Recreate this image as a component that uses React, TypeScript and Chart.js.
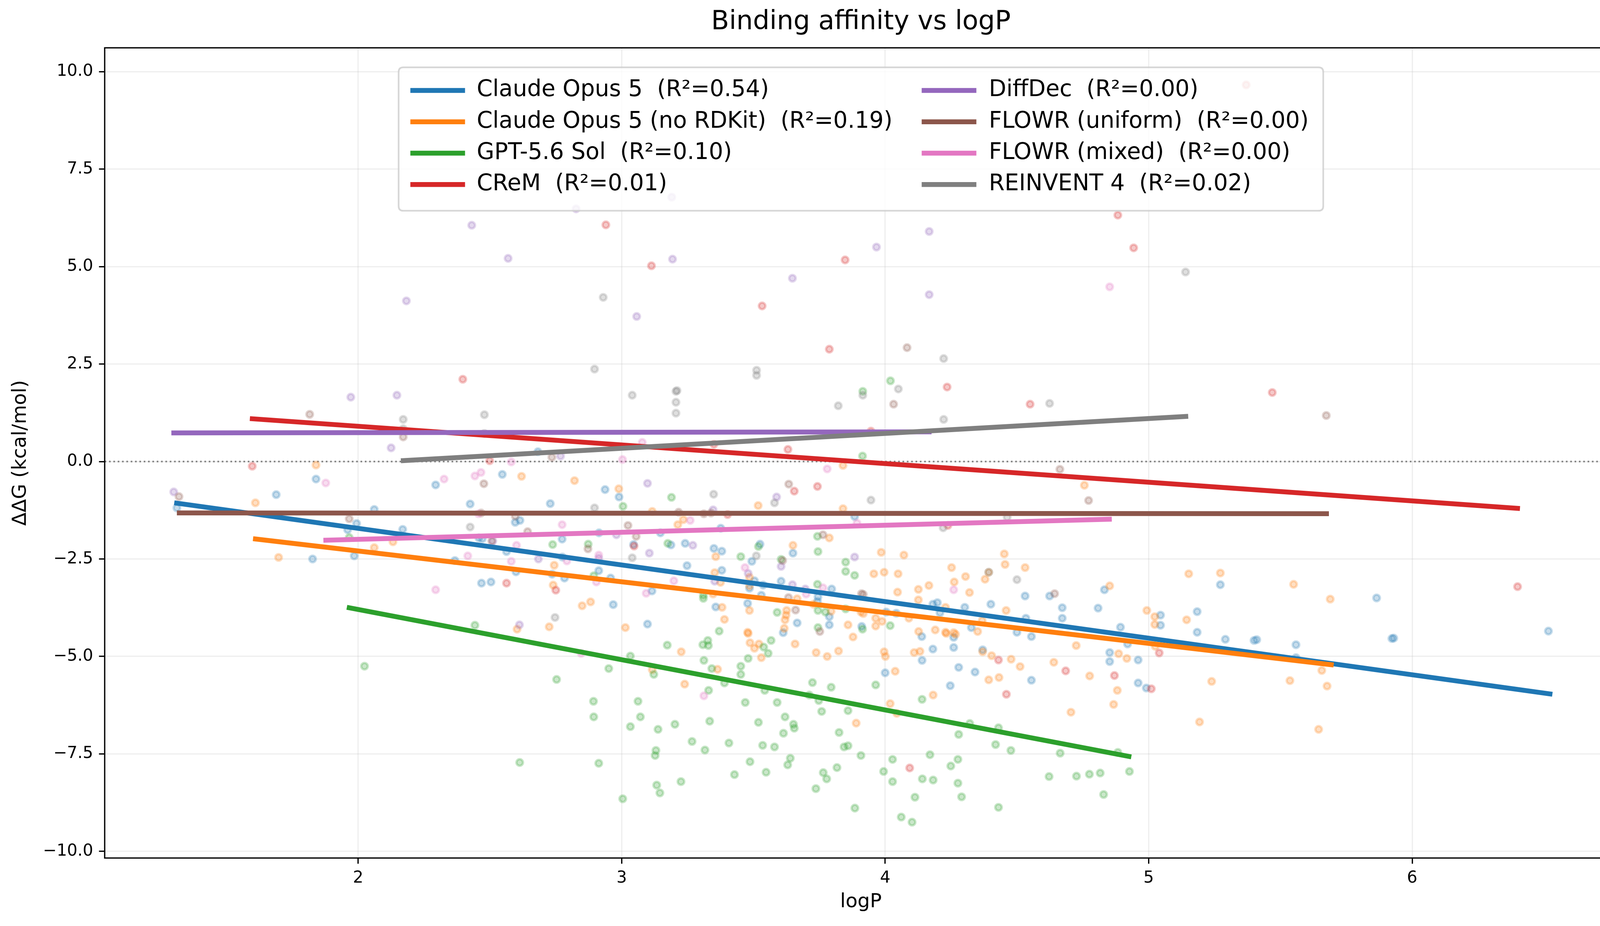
import React, { useEffect, useRef } from "react";
import { Chart, registerables } from "chart.js";

Chart.register(...registerables);

// ---------------- data ----------------
const seriesNames = [
  "Claude Opus 5",
  "Claude Opus 5 (no RDKit)",
  "GPT-5.6 Sol",
  "CReM",
  "DiffDec",
  "FLOWR (uniform)",
  "FLOWR (mixed)",
  "REINVENT 4",
];
const r2Values = [0.54, 0.19, 0.1, 0.01, 0.0, 0.0, 0.0, 0.02];

const claudeOpus5Points = [
  [1.312, -1.19], [1.689, -0.85], [1.84, -0.45], [2.061, -1.23], [1.994, -1.59], [1.96, -1.75], [2.169, -1.74],
  [2.294, -0.6], [2.425, -1.09], [2.458, -1.96], [1.985, -2.42], [1.827, -2.5], [2.367, -2.54], [2.468, -3.12],
  [2.682, 0.25], [2.547, -0.33], [2.937, -0.72], [2.99, -0.91], [2.729, -1.08], [2.596, -1.56], [2.614, -1.51],
  [2.774, -1.99], [2.471, -1.98], [2.563, -2.31], [2.914, -1.83], [3.147, -1.83], [3.376, -1.71], [3.045, -2.13],
  [3.187, -2.14], [3.241, -2.1], [3.35, -2.23], [3.38, -2.3], [3.525, -2.12], [3.494, -2.56], [3.65, -2.35],
  [3.884, -1.41], [2.775, -2.45], [2.913, -2.8], [2.599, -2.83], [2.736, -2.89], [2.783, -2.99], [2.958, -2.99],
  [2.504, -3.09], [3.248, -2.67], [3.38, -2.79], [3.504, -3.06], [3.605, -3.07], [3.537, -3.17], [3.485, -3.25],
  [3.797, -3.27], [3.745, -3.47], [3.53, -3.43], [3.115, -3.32], [2.968, -3.67], [3.478, -3.64], [3.357, -3.73],
  [3.743, -3.59], [3.788, -3.98], [3.666, -4.14], [3.788, -4.19], [3.613, -4.39], [3.098, -4.17], [3.911, -4.23],
  [4.393, -2.84], [4.531, -3.45], [4.624, -3.45], [4.832, -3.29], [5.272, -3.16], [4.181, -3.66], [4.198, -3.62],
  [4.302, -3.74], [4.401, -3.66], [4.672, -3.75], [4.672, -4.02], [4.808, -3.76], [5.184, -3.85], [5.045, -3.94],
  [5.045, -4.2], [4.893, -4.25], [4.004, -3.86], [4.042, -3.89], [4.208, -3.88], [4.534, -4.02], [4.327, -4.26],
  [4.5, -4.38], [5.184, -4.38], [4.139, -4.49], [4.26, -4.51], [4.555, -4.49], [4.181, -4.81], [4.26, -4.77],
  [4.37, -4.83], [4.14, -5.1], [4.279, -5.28], [4.341, -5.4], [4.0, -5.42], [4.247, -5.75], [4.555, -5.61],
  [4.852, -4.9], [4.852, -5.13], [4.96, -5.09], [4.96, -5.68], [4.991, -5.81], [4.92, -4.68], [5.291, -4.56],
  [5.4, -4.59], [5.865, -3.5], [6.517, -4.35], [5.41, -4.57], [5.559, -4.7], [5.559, -5.03], [5.923, -4.54],
  [5.93, -4.53],
];

const claudeNoRdkitPoints = [
  [1.84, -0.09], [1.61, -1.06], [1.698, -2.46], [2.061, -2.21], [2.132, -2.06], [2.62, -0.38], [2.821, -0.49],
  [2.989, -0.7], [3.116, -1.28], [3.234, -1.49], [3.213, -1.62], [3.518, -1.13], [3.84, -1.21], [3.84, -0.1],
  [2.744, -2.66], [2.74, -3.17], [3.357, -2.44], [3.353, -2.85], [3.375, -3.1], [3.65, -2.15], [3.788, -1.96],
  [3.485, -2.97], [3.485, -3.19], [2.85, -3.7], [2.882, -3.6], [2.725, -4.24], [2.603, -4.3], [3.014, -4.26],
  [3.347, -3.4], [3.381, -3.74], [3.39, -4.05], [3.485, -3.82], [3.666, -3.52], [3.626, -3.82], [3.624, -3.94],
  [3.62, -4.06], [3.728, -3.66], [3.795, -3.84], [3.908, -3.86], [3.859, -4.19], [3.617, -4.28], [3.478, -4.38],
  [3.226, -4.88], [3.239, -5.71], [3.116, -5.34], [3.364, -5.33], [3.48, -4.41], [3.487, -4.65], [3.521, -4.68],
  [3.504, -4.79], [3.53, -5.03], [3.658, -4.68], [3.738, -4.9], [3.78, -5.0], [3.823, -4.86], [3.878, -4.5],
  [3.89, -6.71], [4.756, -0.61], [3.985, -2.33], [4.071, -2.4], [4.452, -2.37], [4.455, -2.64], [4.531, -2.72],
  [4.252, -2.72], [3.957, -2.88], [3.996, -2.84], [4.049, -2.88], [4.305, -2.95], [4.262, -3.09], [4.379, -3.02],
  [4.393, -2.84], [4.166, -3.18], [4.126, -3.28], [4.047, -3.35], [4.32, -3.36], [4.126, -3.55], [4.852, -3.19],
  [5.152, -2.88], [5.272, -2.86], [4.459, -3.82], [4.993, -3.82], [5.023, -3.98], [5.023, -4.18], [5.144, -4.06],
  [4.229, -3.74], [4.368, -4.08], [3.964, -4.02], [3.964, -4.22], [3.988, -4.1], [4.09, -4.02], [4.19, -4.32],
  [4.127, -4.36], [4.229, -4.38], [4.26, -4.39], [3.917, -3.9], [4.232, -4.41], [4.267, -4.43], [4.351, -4.36],
  [3.996, -4.88], [4.001, -5.0], [4.11, -4.9], [4.132, -4.87], [4.038, -5.38], [4.37, -4.88], [4.404, -4.98],
  [4.478, -5.07], [4.512, -5.26], [4.393, -5.6], [4.432, -5.54], [4.182, -5.99], [4.019, -6.21], [4.044, -6.46],
  [4.64, -5.15], [4.725, -4.72], [4.776, -5.5], [4.881, -5.87], [4.867, -6.23], [4.705, -6.43], [4.886, -4.93],
  [4.917, -5.05], [5.239, -5.64], [5.193, -6.68], [5.025, -4.74], [5.55, -3.15], [5.689, -3.53], [5.657, -5.36],
  [5.536, -5.62], [5.677, -5.76], [5.645, -6.87],
];

const gptSolPoints = [
  [1.966, -1.95], [2.443, -4.2], [2.024, -5.25], [3.914, 0.14], [3.189, -0.92], [3.005, -1.15], [2.738, -2.13],
  [2.873, -2.12], [3.175, -2.1], [3.452, -2.44], [3.519, -2.18], [3.605, -2.51], [3.743, -1.92], [3.745, -2.31],
  [3.85, -2.58], [3.85, -2.82], [3.884, -2.92], [2.894, -2.93], [3.743, -3.15], [3.745, -3.82], [3.773, -3.86],
  [3.85, -3.78], [3.59, -3.87], [3.31, -3.43], [3.31, -3.51], [3.37, -4.35], [3.745, -4.26], [3.914, -4.3],
  [3.173, -4.71], [3.308, -4.7], [3.327, -4.59], [3.329, -4.72], [3.567, -4.59], [3.539, -4.76], [3.556, -4.92],
  [3.48, -5.05], [3.452, -5.25], [3.452, -5.46], [3.312, -5.1], [3.342, -5.31], [3.39, -5.68], [3.33, -5.87],
  [3.122, -5.46], [3.033, -4.99], [2.951, -5.31], [2.753, -5.59], [2.893, -6.15], [2.894, -6.55], [3.062, -6.15],
  [3.071, -6.55], [3.033, -6.8], [3.138, -6.87], [3.202, -6.74], [3.334, -6.66], [3.267, -7.18], [3.316, -7.4],
  [3.407, -7.22], [3.13, -7.41], [3.127, -7.54], [2.613, -7.72], [2.913, -7.74], [3.133, -8.3], [3.145, -8.5],
  [3.225, -8.21], [3.004, -8.65], [3.469, -6.18], [3.59, -6.18], [3.543, -5.87], [3.519, -6.69], [3.62, -6.55],
  [3.652, -6.74], [3.655, -6.84], [3.614, -6.97], [3.535, -7.28], [3.58, -7.32], [3.487, -7.7], [3.428, -8.03],
  [3.548, -7.97], [3.64, -7.61], [3.63, -7.78], [3.724, -5.67], [3.795, -5.79], [3.712, -5.99], [3.748, -6.13],
  [3.759, -6.41], [3.859, -6.39], [3.825, -6.95], [3.844, -7.32], [3.859, -7.29], [3.908, -7.54], [3.817, -7.85],
  [3.765, -7.98], [3.778, -8.14], [3.737, -8.39], [3.885, -8.89], [3.964, -5.73], [4.14, -6.1], [4.028, -7.64],
  [4.17, -7.52], [3.994, -7.95], [4.028, -8.21], [4.141, -8.14], [4.182, -8.17], [4.113, -8.61], [4.061, -9.12],
  [4.102, -9.25], [4.279, -7.0], [4.321, -6.72], [4.43, -6.83], [4.419, -7.26], [4.477, -7.41], [4.276, -7.64],
  [4.249, -7.81], [4.276, -8.25], [4.29, -8.6], [4.43, -8.87], [4.664, -7.48], [4.622, -8.08], [4.726, -8.07],
  [4.775, -8.02], [4.816, -7.99], [4.927, -7.95], [4.829, -8.54], [4.883, -7.46], [4.019, -4.21], [3.915, 1.8],
  [4.02, 2.07],
];

const cremPoints = [
  [1.598, -0.12], [2.397, 2.11], [2.499, 0.02], [2.94, 6.07], [3.113, 5.02], [3.533, 3.99], [3.848, 5.17],
  [3.788, 2.88], [4.235, 1.91], [4.55, 1.47], [3.631, 0.31], [3.946, 0.78], [3.35, 0.44], [4.883, 6.32],
  [4.943, 5.48], [5.469, 1.77], [3.743, -0.64], [3.655, -0.76], [3.402, -1.36], [3.047, -2.17], [2.563, -3.12],
  [2.75, -3.3], [4.238, -1.64], [6.4, -3.21], [4.43, -5.09], [4.685, -5.37], [4.87, -5.49], [4.46, -5.97],
  [5.01, -5.83], [5.04, -4.91], [4.093, -7.86], [5.37, 9.66],
];

const diffDecPoints = [
  [2.431, 6.06], [2.569, 5.21], [2.183, 4.12], [1.972, 1.65], [2.147, 1.7], [2.125, 0.35], [2.827, 6.48],
  [3.19, 6.78], [3.193, 5.19], [3.057, 3.72], [3.648, 4.7], [3.967, 5.5], [4.167, 5.9], [4.167, 4.28],
  [1.3, -0.78], [2.768, 0.14], [3.098, -0.56], [3.588, -0.91], [3.347, -1.24], [2.98, -1.88], [2.511, -2.04],
  [3.105, -2.35], [3.27, -2.15], [2.684, -2.5], [2.913, -2.48], [3.605, -2.69], [3.48, -2.87], [3.353, -3.07],
  [3.648, -3.16], [3.697, -3.27], [3.884, -2.45], [2.612, -4.19],
];

const flowrUniformPoints = [
  [1.816, 1.21], [2.171, 0.63], [4.083, 2.92], [4.032, 1.47], [2.735, 0.11], [4.663, -0.2], [5.674, 1.18],
  [1.32, -0.9], [1.966, -1.47], [2.477, -0.57], [2.467, -1.32], [2.596, -1.4], [2.643, -1.8], [2.507, -2.04],
  [2.872, -2.24], [3.024, -1.64], [3.055, -1.92], [3.216, -1.3], [3.312, -1.34], [3.339, -1.32], [3.634, -0.58],
  [3.764, -1.88], [3.611, -2.54], [3.633, -3.49], [3.66, -3.81], [3.752, -4.36], [3.91, -3.39], [4.772, -1.0],
  [3.917, -3.41], [4.643, -3.39],
];

const flowrMixedPoints = [
  [2.581, -0.01], [3.078, 0.49], [3.003, 0.05], [3.78, -0.19], [4.852, 4.48], [2.326, -0.45], [2.443, -0.37],
  [2.466, -0.28], [2.456, -1.34], [2.416, -2.42], [2.294, -3.29], [2.774, -1.62], [2.601, -2.15], [2.581, -2.56],
  [2.913, -2.4], [2.792, -2.55], [3.26, -1.51], [2.904, -3.09], [3.198, -3.06], [3.093, -3.38], [3.468, -2.72],
  [3.893, -1.58], [3.7, -3.4], [3.764, -3.24], [4.26, -3.29], [2.846, -4.92], [3.312, -6.01], [1.877, -0.55],
];

const reinventPoints = [
  [2.171, 1.08], [2.171, 0.84], [2.479, 1.2], [2.479, 0.72], [2.93, 4.21], [2.897, 2.37], [3.04, 1.7],
  [3.206, 1.8], [3.21, 1.82], [3.206, 1.52], [3.206, 1.24], [3.512, 2.34], [3.512, 2.21], [3.822, 1.43],
  [3.915, 1.7], [4.05, 1.86], [4.222, 2.64], [4.222, 1.08], [4.624, 1.49], [5.14, 4.86], [2.425, -1.68],
  [3.349, -0.84], [3.58, -1.06], [2.897, -1.19], [3.946, -0.99], [3.04, -2.47], [3.511, -2.42], [2.747, -4.0],
  [4.463, -1.43], [4.22, -1.7], [4.5, -3.03],
];

// regression line end points [x, y]
const fitClaudeOpus5 = [[1.302, -1.06], [6.532, -5.97]];
const fitClaudeNoRdkit = [[1.601, -1.98], [5.702, -5.22]];
const fitGptSol = [[1.957, -3.74], [4.934, -7.575]];
const fitCrem = [[1.589, 1.1], [6.409, -1.207]];
const fitDiffDec = [[1.291, 0.733], [4.176, 0.76]];
const fitFlowrUniform = [[1.312, -1.32], [5.684, -1.34]];
const fitFlowrMixed = [[1.868, -2.02], [4.86, -1.48]];
const fitReinvent = [[2.162, 0.02], [5.15, 1.16]];

const xTickValues = [2, 3, 4, 5, 6];
const yTickValues = [-10, -7.5, -5, -2.5, 0, 2.5, 5, 7.5, 10];
const xRange = [1.038, 6.778];
const yRange = [-10.17, 10.61];

const chartTitle = "Binding affinity vs logP";
const xAxisTitle = "logP";
const yAxisTitle = "ΔΔG (kcal/mol)";

// ---------------- styles ----------------
const seriesColors = ["#1f77b4", "#ff7f0e", "#2ca02c", "#d62728", "#9467bd", "#8c564b", "#e377c2", "#7f7f7f"];
const FONT = '"DejaVu Sans", "Liberation Sans", sans-serif';

const allPoints = [
  claudeOpus5Points, claudeNoRdkitPoints, gptSolPoints, cremPoints,
  diffDecPoints, flowrUniformPoints, flowrMixedPoints, reinventPoints,
];
const allFits = [
  fitClaudeOpus5, fitClaudeNoRdkit, fitGptSol, fitCrem,
  fitDiffDec, fitFlowrUniform, fitFlowrMixed, fitReinvent,
];

function rgba(hex: string, a: number) {
  const n = parseInt(hex.slice(1), 16);
  return `rgba(${(n >> 16) & 255},${(n >> 8) & 255},${n & 255},${a})`;
}

function fmtY(v: number) {
  const s = Math.abs(v).toFixed(1);
  return v < 0 ? "\u2212" + s : s;
}

const zeroLinePlugin = {
  id: "zeroLine",
  beforeDatasetsDraw(chart: any) {
    const { ctx, chartArea } = chart;
    const y = chart.scales.y.getPixelForValue(0);
    ctx.save();
    ctx.strokeStyle = "#808080";
    ctx.lineWidth = 4;
    ctx.setLineDash([4.2, 6.9]);
    ctx.beginPath();
    ctx.moveTo(chartArea.left, y);
    ctx.lineTo(chartArea.right, y);
    ctx.stroke();
    ctx.restore();
  },
};

const framePlugin = {
  id: "frame",
  afterDatasetsDraw(chart: any) {
    const { ctx, chartArea } = chart;
    ctx.save();
    ctx.strokeStyle = "#000";
    ctx.lineWidth = 3.3;
    ctx.strokeRect(chartArea.left, chartArea.top, chartArea.right - chartArea.left, chartArea.bottom - chartArea.top);
    ctx.restore();
  },
};

const boxLegendPlugin = {
  id: "boxLegend",
  afterDraw(chart: any) {
    const { ctx, chartArea } = chart;
    const fits = chart.data.datasets.filter((d: any) => d.isFit);
    fits.sort((a: any, b: any) => a.seriesIndex - b.seriesIndex);
    const boxW = 2367;
    const boxH = 367;
    const left = (chartArea.left + chartArea.right) / 2 - boxW / 2;
    const top = chartArea.top + 50;
    const r = 12;
    ctx.save();
    ctx.beginPath();
    ctx.moveTo(left + r, top);
    ctx.lineTo(left + boxW - r, top);
    ctx.quadraticCurveTo(left + boxW, top, left + boxW, top + r);
    ctx.lineTo(left + boxW, top + boxH - r);
    ctx.quadraticCurveTo(left + boxW, top + boxH, left + boxW - r, top + boxH);
    ctx.lineTo(left + r, top + boxH);
    ctx.quadraticCurveTo(left, top + boxH, left, top + boxH - r);
    ctx.lineTo(left, top + r);
    ctx.quadraticCurveTo(left, top, left + r, top);
    ctx.closePath();
    ctx.fillStyle = "rgba(255,255,255,0.8)";
    ctx.fill();
    ctx.strokeStyle = "rgba(204,204,204,0.8)";
    ctx.lineWidth = 4.2;
    ctx.stroke();

    ctx.font = `58px ${FONT}`;
    ctx.textBaseline = "middle";
    ctx.textAlign = "left";
    fits.forEach((d: any, i: number) => {
      const col = Math.floor(i / 4);
      const row = i % 4;
      const hx = left + (col === 0 ? 30 : 1339);
      const tx = left + (col === 0 ? 200 : 1511);
      const y = top + 59 + row * 80.3;
      ctx.strokeStyle = d.borderColor;
      ctx.lineWidth = 12.5;
      ctx.lineCap = "butt";
      ctx.beginPath();
      ctx.moveTo(hx, y);
      ctx.lineTo(hx + 140, y);
      ctx.stroke();
      ctx.fillStyle = "#000";
      ctx.fillText(d.label, tx, y);
    });
    ctx.restore();
  },
};

export default function App() {
  const canvasRef = useRef<HTMLCanvasElement | null>(null);

  useEffect(() => {
    if (!canvasRef.current) return;
    document.body.style.margin = "0";
    Chart.defaults.font.family = FONT;
    Chart.defaults.color = "#000";

    const datasets: any[] = [];
    seriesNames.forEach((name, i) => {
      const color = seriesColors[i];
      datasets.push({
        label: name,
        data: allPoints[i].map(([x, y]) => ({ x, y })),
        backgroundColor: rgba(color, 0.25),
        borderColor: rgba(color, 0.25),
        pointRadius: 8.4,
        pointBorderWidth: 6,
        pointHoverRadius: 8.4,
        showLine: false,
        order: 200 + (7 - i),
      });
    });
    seriesNames.forEach((name, i) => {
      const color = seriesColors[i];
      datasets.push({
        label: `${name}  (R\u00b2=${r2Values[i].toFixed(2)})`,
        data: allFits[i].map(([x, y]) => ({ x, y })),
        borderColor: color,
        backgroundColor: color,
        borderWidth: 12.5,
        pointRadius: 0,
        pointHoverRadius: 0,
        showLine: true,
        fill: false,
        tension: 0,
        isFit: true,
        seriesIndex: i,
        order: 100 + (7 - i),
      });
    });

    const chart = new Chart(canvasRef.current, {
      type: "scatter",
      data: { datasets },
      options: {
        animation: false,
        responsive: false,
        devicePixelRatio: 1,
        events: [],
        layout: { padding: { left: 0, right: 30, top: 0, bottom: 0 } },
        plugins: {
          legend: { display: false },
          tooltip: { enabled: false },
          title: {
            display: true,
            text: chartTitle,
            fullSize: false,
            color: "#000",
            font: { size: 67, weight: "normal", family: FONT },
            padding: { top: 17, bottom: 25 },
          },
        },
        scales: {
          x: {
            type: "linear",
            min: xRange[0],
            max: xRange[1],
            afterBuildTicks: (scale: any) => {
              scale.ticks = xTickValues.map((v) => ({ value: v }));
            },
            afterFit: (scale: any) => {
              scale.height = 174;
            },
            ticks: {
              color: "#000",
              font: { size: 42, family: FONT },
              padding: 12,
              maxRotation: 0,
              autoSkip: false,
              callback: (v: any) => String(v),
            },
            grid: {
              color: "rgba(176,176,176,0.2)",
              lineWidth: 3.3,
              drawTicks: true,
              tickLength: 14.6,
              tickColor: "#000",
              tickWidth: 3.3,
            },
            border: { display: false },
            title: {
              display: true,
              text: xAxisTitle,
              color: "#000",
              font: { size: 50, family: FONT },
              padding: { top: 0, bottom: 31 },
            },
          },
          y: {
            type: "linear",
            min: yRange[0],
            max: yRange[1],
            afterBuildTicks: (scale: any) => {
              scale.ticks = yTickValues.map((v) => ({ value: v }));
            },
            afterFit: (scale: any) => {
              scale.width = 268;
            },
            ticks: {
              color: "#000",
              font: { size: 42, family: FONT },
              padding: 15,
              autoSkip: false,
              callback: (v: any) => fmtY(Number(v)),
            },
            grid: {
              color: "rgba(176,176,176,0.2)",
              lineWidth: 3.3,
              drawTicks: true,
              tickLength: 14.6,
              tickColor: "#000",
              tickWidth: 3.3,
            },
            border: { display: false },
            title: {
              display: true,
              text: yAxisTitle,
              color: "#000",
              font: { size: 50, family: FONT },
              padding: { top: 23, bottom: 0 },
            },
          },
        },
      } as any,
      plugins: [zeroLinePlugin, framePlugin, boxLegendPlugin],
    });

    return () => chart.destroy();
  }, []);

  return (
    <div style={{ position: "absolute", left: 0, top: 0, width: 4170, height: 2370, background: "#fff" }}>
      <canvas ref={canvasRef} width={4170} height={2370} style={{ width: 4170, height: 2370, display: "block" }} />
    </div>
  );
}
